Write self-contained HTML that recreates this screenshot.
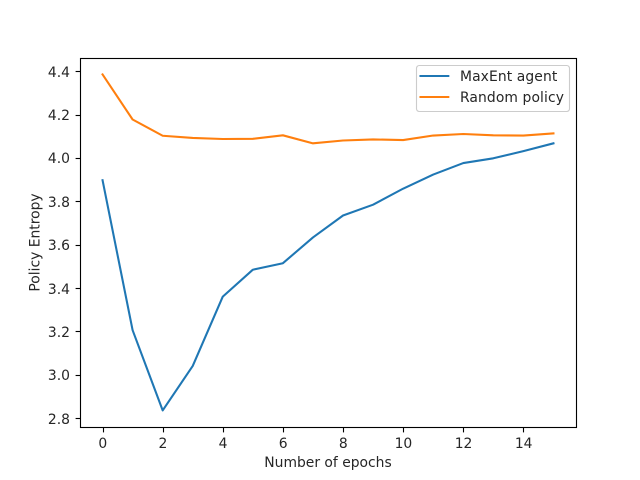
<!DOCTYPE html>
<html>
<head>
<meta charset="utf-8">
<title>Policy Entropy</title>
<style>
html,body{margin:0;padding:0;background:#fff;width:640px;height:480px;overflow:hidden}
svg{display:block}
text{font-family:"DejaVu Sans","Liberation Sans",sans-serif;font-size:13.89px;fill:#262626}
</style>
</head>
<body>
<svg id="chart" xmlns="http://www.w3.org/2000/svg" width="640" height="480" viewBox="0 0 640 480">
  <rect x="0" y="0" width="640" height="480" fill="#fff"/>
  <g id="ticks"></g>
  <g id="series"></g>
  <rect x="80.5" y="58.5" width="496" height="369" fill="none" stroke="#000" stroke-width="1.11"/>
  <text x="328" y="467" text-anchor="middle">Number of epochs</text>
  <text x="0" y="0" text-anchor="middle" transform="translate(39.5 242.5) rotate(-90)">Policy Entropy</text>
  <g>
    <rect x="416.5" y="65.5" width="153" height="46" rx="2.8" ry="2.8" fill="#fff" fill-opacity="0.8" stroke="#ccc" stroke-width="1.11"/>
    <line x1="420.5" y1="76" x2="448.3" y2="76" stroke="#1f77b4" stroke-width="2.08" stroke-linecap="square"/>
    <text x="460" y="81" letter-spacing="0.1">MaxEnt agent</text>
    <line x1="420.5" y1="97" x2="448.3" y2="97" stroke="#ff7f0e" stroke-width="2.08" stroke-linecap="square"/>
    <text x="460" y="102" letter-spacing="0.1">Random policy</text>
  </g>
</svg>
<script>
const epochs = [0, 1, 2, 3, 4, 5, 6, 7, 8, 9, 10, 11, 12, 13, 14, 15];
const maxEntValues = [3.897, 3.205, 2.835, 3.04, 3.36, 3.484, 3.514, 3.633, 3.734, 3.784, 3.858, 3.923, 3.976, 3.998, 4.031, 4.067];
const randomValues = [4.385, 4.177, 4.102, 4.092, 4.087, 4.088, 4.104, 4.067, 4.08, 4.085, 4.082, 4.103, 4.11, 4.104, 4.103, 4.113];
const xTickValues = [0, 2, 4, 6, 8, 10, 12, 14];
const yTickValues = [2.8, 3.0, 3.2, 3.4, 3.6, 3.8, 4.0, 4.2, 4.4];

const NS = 'http://www.w3.org/2000/svg';
const plot = { left: 80, right: 576, top: 57.6, bottom: 427.2 };
const allX = epochs;
const allY = maxEntValues.concat(randomValues);
const xLo = Math.min.apply(null, allX);
const xHi = Math.max.apply(null, allX);
const yLo = Math.min.apply(null, allY);
const yHi = Math.max.apply(null, allY);
const xPad = (xHi - xLo) * 0.05;
const yPad = (yHi - yLo) * 0.05;

function xScale(v) {
  return plot.left + (v - (xLo - xPad)) / ((xHi + xPad) - (xLo - xPad)) * (plot.right - plot.left);
}
function yScale(v) {
  return plot.bottom - (v - (yLo - yPad)) / ((yHi + yPad) - (yLo - yPad)) * (plot.bottom - plot.top);
}

const tickGroup = document.getElementById('ticks');
const seriesGroup = document.getElementById('series');

xTickValues.forEach(function (v) {
  const x = Math.floor(xScale(v) + 0.5) + 0.5;
  const tick = document.createElementNS(NS, 'line');
  
  
  tick.setAttribute('x1', x);
  tick.setAttribute('x2', x);
  tick.setAttribute('y1', 427.5);
  tick.setAttribute('y2', 432.4);
  tick.setAttribute('stroke', '#000');
  tick.setAttribute('stroke-width', 1.11);
  tickGroup.appendChild(tick);
  const label = document.createElementNS(NS, 'text');
  
  
  label.setAttribute('x', xScale(v) + 0.3);
  label.setAttribute('y', 448);
  label.setAttribute('text-anchor', 'middle');
  label.textContent = String(v);
  tickGroup.appendChild(label);
});

yTickValues.forEach(function (v) {
  const y = Math.floor(yScale(v) + 0.5) + 0.5;
  const tick = document.createElementNS(NS, 'line');
  
  
  tick.setAttribute('x1', 75.6);
  tick.setAttribute('x2', 80.5);
  tick.setAttribute('y1', y);
  tick.setAttribute('y2', y);
  tick.setAttribute('stroke', '#000');
  tick.setAttribute('stroke-width', 1.11);
  tickGroup.appendChild(tick);
  const label = document.createElementNS(NS, 'text');
  
  
  label.setAttribute('x', 70);
  label.setAttribute('y', Math.round(yScale(v) + 5.6));
  label.setAttribute('text-anchor', 'end');
  label.textContent = v.toFixed(1);
  tickGroup.appendChild(label);
});

function pointsFor(values) {
  return values.map(function (v, i) {
    return xScale(epochs[i]).toFixed(2) + ',' + yScale(v).toFixed(2);
  }).join(' ');
}

const maxEntLine = document.createElementNS(NS, 'polyline');


maxEntLine.setAttribute('points', pointsFor(maxEntValues));
maxEntLine.setAttribute('fill', 'none');
maxEntLine.setAttribute('stroke', '#1f77b4');
maxEntLine.setAttribute('stroke-width', 2.08);
maxEntLine.setAttribute('stroke-linejoin', 'round');
maxEntLine.setAttribute('stroke-linecap', 'square');
seriesGroup.appendChild(maxEntLine);

const randomLine = document.createElementNS(NS, 'polyline');


randomLine.setAttribute('points', pointsFor(randomValues));
randomLine.setAttribute('fill', 'none');
randomLine.setAttribute('stroke', '#ff7f0e');
randomLine.setAttribute('stroke-width', 2.08);
randomLine.setAttribute('stroke-linejoin', 'round');
randomLine.setAttribute('stroke-linecap', 'square');
seriesGroup.appendChild(randomLine);
</script>
</body>
</html>
